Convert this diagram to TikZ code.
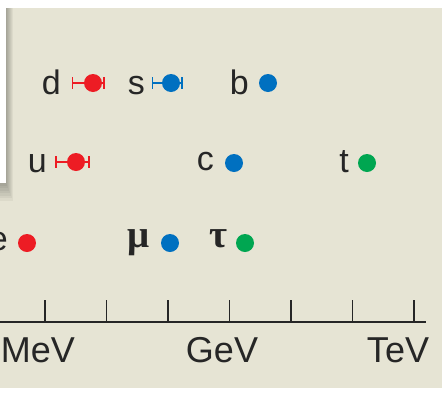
\documentclass[tikz,border=0pt]{standalone}
\usepackage{fontspec}
\setmainfont{Liberation Sans}
\newfontfamily\greekfont{Liberation Serif}
\usetikzlibrary{positioning}
\definecolor{paper}{RGB}{230,228,212}
\definecolor{genone}{RGB}{237,28,36}
\definecolor{gentwo}{RGB}{0,112,192}
\definecolor{genthree}{RGB}{0,166,81}
\tikzset{
mass/.style = {circle, fill, inner sep=0pt, minimum size=18pt},
flavour/.style = {anchor=base east, inner sep=0pt, text=black!85,
  font=\fontsize{34}{34}\selectfont},
lepton/.style = {flavour, font=\fontsize{39}{39}\selectfont\greekfont\bfseries},
unit/.style = {anchor=base, inner sep=0pt, text=black!85,
  font=\fontsize{36}{36}\selectfont},
errbar/.style = {line width=1.7pt}
}

\begin{document}
\begin{tikzpicture}[x=1pt, y=-1pt]
    \useasboundingbox (0,0) rectangle (442,405);
    \fill[white] (0,0) rectangle (442,405);
    \fill[paper] (0,8) rectangle (442,388);

    % inset panel and its shadow
    \foreach \s in {1,...,7}
        \fill[black, opacity=0.045] (-10,8) rectangle (6+\s, 183+2.5*\s);
    \fill[white] (-10,8) rectangle (6,183);

    % mass axis
    \coordinate (axl) at (0,322);
    \coordinate (axr) at (426,322);
    \draw[line width=2pt, black!85] (axl) -- (axr);
    \foreach \i in {0,...,6}{
        \coordinate (tick\i) at (45+61.5*\i,322);
        \draw[line width=1.5pt, black!85] (tick\i) -- ++(0,-22);
    }
    \node[unit] (MeV) at (38,362) {MeV};
    \node[unit] (GeV) at (222,362) {GeV};
    \node[unit] (TeV) at (398,362) {TeV};

    % error bars
    \coordinate (dlo) at (72.5,83);  \coordinate (dhi) at (104,83);
    \coordinate (slo) at (152.5,83); \coordinate (shi) at (182,83);
    \coordinate (ulo) at (56,162);   \coordinate (uhi) at (89,162);
    \draw[errbar, genone] (dlo) -- (dhi)
        (dlo) ++(0,-6) -- ++(0,12) (dhi) ++(0,-6) -- ++(0,12);
    \draw[errbar, gentwo] (slo) -- (shi)
        (slo) ++(0,-6) -- ++(0,12) (shi) ++(0,-6) -- ++(0,12);
    \draw[errbar, genone] (ulo) -- (uhi)
        (ulo) ++(0,-6) -- ++(0,12) (uhi) ++(0,-6) -- ++(0,12);

    % quarks
    \node[mass, genone] (d) at (93,83) {};
    \node[mass, gentwo] (s) at (171,83) {};
    \node[mass, gentwo] (b) at (268,83) {};
    \node[mass, genone] (u) at (76,162) {};
    \node[mass, gentwo] (c) at (234,163) {};
    \node[mass, genthree] (t) at (367,163) {};
    \node[flavour] (dname) at (61,94) {d};
    \node[flavour] (sname) at (145,94) {s};
    \node[flavour] (bname) at (249,94) {b};
    \node[flavour] (uname) at (47,172) {u};
    \node[flavour] (cname) at (214,170) {c};
    \node[flavour] (tname) at (349,172) {t};

    % leptons
    \node[mass, genone] (e) at (27,243) {};
    \node[mass, gentwo] (mu) at (170,243) {};
    \node[mass, genthree] (tau) at (245,243) {};
    \node[flavour] (ename) at (8,250) {e};
    \node[lepton] (muname) at (150,247) {μ};
    \node[lepton] (tauname) at (228,247) {τ};
\end{tikzpicture}
\end{document}
